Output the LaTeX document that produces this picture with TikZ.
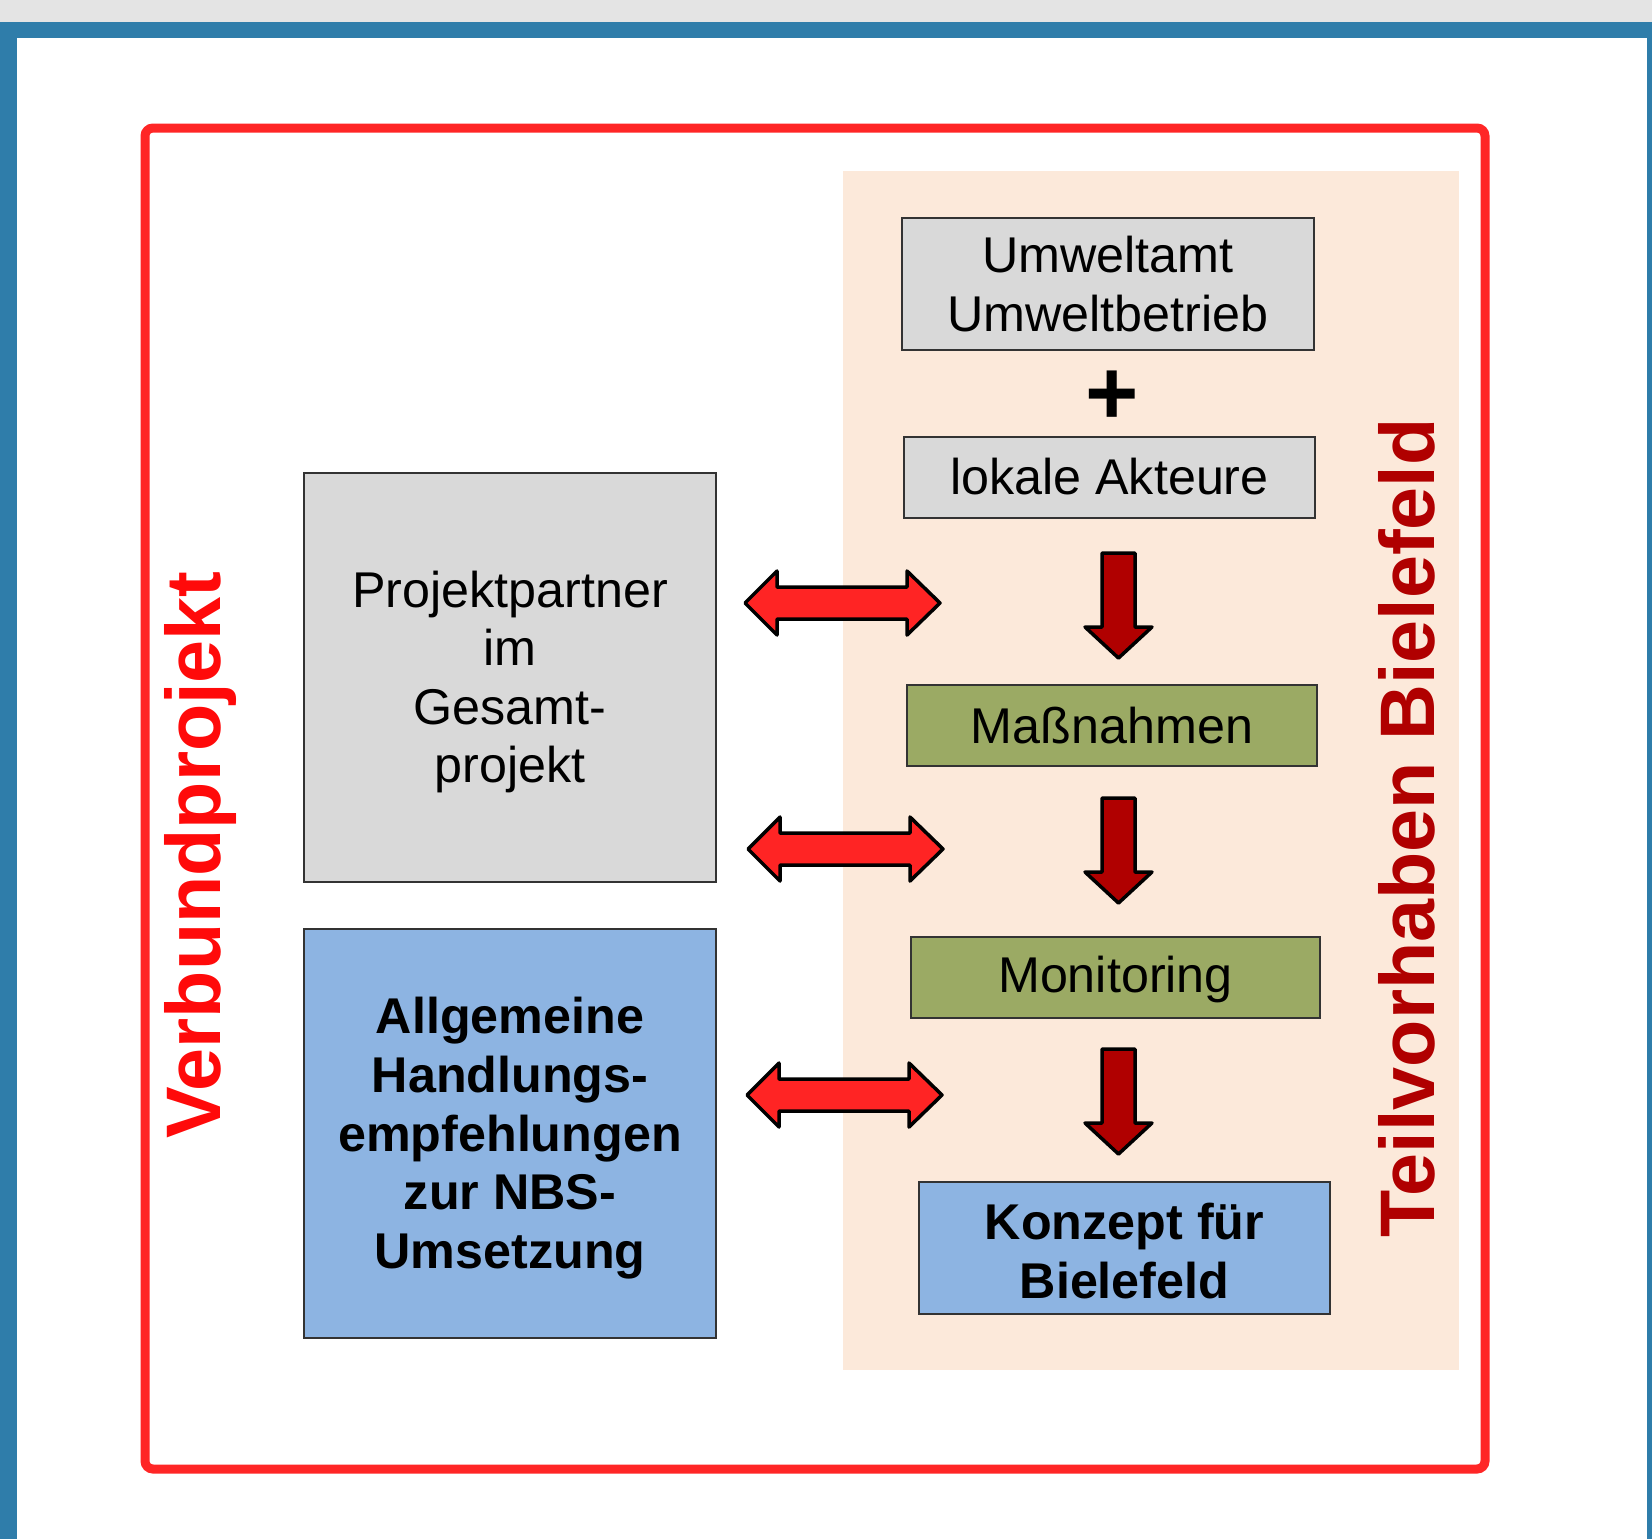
\documentclass[tikz,border=0pt]{standalone}
\usepackage{fontspec}
\setmainfont{Liberation Sans}
\definecolor{topgray}{HTML}{E4E4E4}
\definecolor{edgeblue}{HTML}{2F7DAA}
\definecolor{framered}{HTML}{FF2626}
\definecolor{textred}{HTML}{FF0A0A}
\definecolor{darkred}{HTML}{B00000}
\definecolor{beige}{HTML}{FCE9DA}
\definecolor{boxgray}{HTML}{D9D9D9}
\definecolor{boxgreen}{HTML}{9BAA64}
\definecolor{boxblue}{HTML}{8DB4E2}
\definecolor{arrowred}{HTML}{FF2424}
\begin{document}
\begin{tikzpicture}[x=0.1mm, y=-0.1mm,
    box/.style={draw=black!80, line width=0.2mm, inner sep=0pt, align=center,
        font=\fontsize{14.3}{16.6}\selectfont},
    flatbox/.style={box, minimum width=41mm, minimum height=8.1mm},
    tallbox/.style={box, minimum width=41.1mm, minimum height=13.2mm},
    bigbox/.style={box, minimum width=41.2mm, minimum height=40.9mm},
    sidetitle/.style={rotate=90, inner sep=0pt, font=\fontsize{22}{22}\selectfont\bfseries},
    twoway/.style={draw=black, fill=arrowred, line width=0.35mm, line join=round},
    oneway/.style={draw=black, fill=darkred, line width=0.35mm, line join=round}]
    \useasboundingbox (0,0) rectangle (1652,1539);
    % page background
    \fill[topgray] (0,0) rectangle (1652,22);
    \fill[edgeblue] (0,22) rectangle (1652,1539);
    \fill[white] (17,38) rectangle (1647,1539);
    % frame and sub-project area
    \draw[framered, line width=0.9mm, rounded corners=0.8mm] (145,128) rectangle (1485,1469);
    \fill[beige] (843,171) rectangle (1459,1370);
    % left column
    \draw (510,677.5) node[bigbox, fill=boxgray] (partner)
        {\rule{0pt}{13pt}Projektpartner\\im\\Gesamt-\\projekt};
    \draw (510,1133.5) node[bigbox, fill=boxblue, font=\fontsize{14.3}{16.7}\selectfont\bfseries] (allg)
        {\rule{0pt}{13pt}Allgemeine\\Handlungs-\\empfehlungen\\zur NBS-\\Umsetzung};
    % right column
    \draw (1108,284) node[tallbox, minimum width=41.2mm, fill=boxgray] (umwelt) {Umweltamt\\Umweltbetrieb};
    \draw (1112,398) node[inner sep=0pt, font=\fontsize{26}{26}\selectfont\bfseries] (plus) {+};
    \draw (1109.5,477) node[flatbox, minimum width=41.1mm, fill=boxgray] (lokal) {lokale Akteure};
    \draw (1112,725.5) node[flatbox, fill=boxgreen] (massn) {Maßnahmen};
    \draw (1115.5,977) node[flatbox, minimum width=40.9mm, fill=boxgreen] (monit) {\rule{0pt}{11.5pt}Monitoring};
    \draw (1124.5,1248) node[tallbox, fill=boxblue, font=\fontsize{14.3}{16.6}\selectfont\bfseries] (konzept)
        {\rule{0pt}{12pt}Konzept für\\Bielefeld};
    % block arrows
    \foreach \x/\y in {745/603, 748/849, 747/1095}
        \draw[twoway] (\x,\y) -- ++(32,-32) -- ++(0,16) -- ++(130,0) -- ++(0,-16) -- ++(33,32)
            -- ++(-33,32) -- ++(0,-16) -- ++(-130,0) -- ++(0,16) -- cycle;
    \foreach \y in {553, 798, 1049}
        \draw[oneway] (1102,\y) -- ++(33,0) -- ++(0,74) -- ++(17,0) -- ++(-33.5,31)
            -- ++(-33.5,-31) -- ++(17,0) -- cycle;
    % side titles
    \draw (201,855) node[sidetitle, text=textred] (verbund) {Verbundprojekt};
    \draw (1407,828) node[sidetitle, text=darkred] (teil) {Teilvorhaben Bielefeld};
\end{tikzpicture}
\end{document}
